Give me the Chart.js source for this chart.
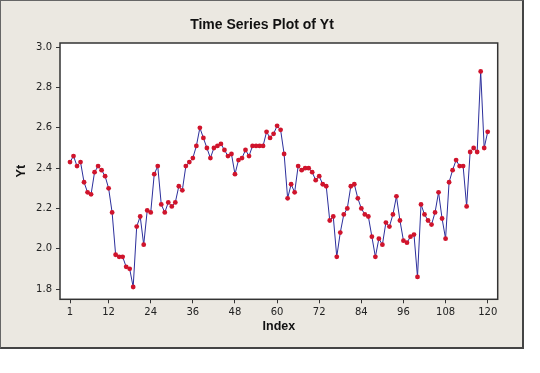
<!DOCTYPE html>
<html>
<head>
<meta charset="utf-8">
<script src="https://cdn.jsdelivr.net/npm/chart.js@4/dist/chart.umd.min.js"></script>
<style>
    body { margin: 0; background: #fff; }
    #frame {
        position: absolute; left: 0; top: 0;
        width: 521px; height: 346px;
        background: #ebe8e1;
        border-top: 1px solid #666; border-left: 1px solid #666;
        border-right: 2px solid #444; border-bottom: 2px solid #444;
    }
    #wrap { position: absolute; left: 0; top: 0; width: 540px; height: 373px; }
</style>
</head>
<body>
<div id="frame"></div>
<div id="wrap"><canvas id="myChart" width="540" height="373"></canvas></div>
<script>
'use strict';

// data
const chartTitle = 'Time Series Plot of Yt';
const indexTicks = [1, 12, 24, 36, 48, 60, 72, 84, 96, 108, 120];
const ytTicks = [1.8, 2.0, 2.2, 2.4, 2.6, 2.8, 3.0];
const yt = [
    2.43, 2.46, 2.41, 2.43, 2.33, 2.28, 2.27, 2.38, 2.41, 2.39,
    2.36, 2.30, 2.18, 1.97, 1.96, 1.96, 1.91, 1.90, 1.81, 2.11,
    2.16, 2.02, 2.19, 2.18, 2.37, 2.41, 2.22, 2.18, 2.23, 2.21,
    2.23, 2.31, 2.29, 2.41, 2.43, 2.45, 2.51, 2.60, 2.55, 2.50,
    2.45, 2.50, 2.51, 2.52, 2.49, 2.46, 2.47, 2.37, 2.44, 2.45,
    2.49, 2.46, 2.51, 2.51, 2.51, 2.51, 2.58, 2.55, 2.57, 2.61,
    2.59, 2.47, 2.25, 2.32, 2.28, 2.41, 2.39, 2.40, 2.40, 2.38,
    2.34, 2.36, 2.32, 2.31, 2.14, 2.16, 1.96, 2.08, 2.17, 2.20,
    2.31, 2.32, 2.25, 2.20, 2.17, 2.16, 2.06, 1.96, 2.05, 2.02,
    2.13, 2.11, 2.17, 2.26, 2.14, 2.04, 2.03, 2.06, 2.07, 1.86,
    2.22, 2.17, 2.14, 2.12, 2.18, 2.28, 2.15, 2.05, 2.33, 2.39,
    2.44, 2.41, 2.41, 2.21, 2.48, 2.50, 2.48, 2.88, 2.50, 2.58
];

const points = yt.map((v, i) => ({ x: i + 1, y: v }));

const tickFont = { family: 'DejaVu Sans', size: 10 };
const titleFont = { family: 'Liberation Sans', size: 12.5, weight: 'bold' };

// white plot box + dark frame + the title on top
const plotBox = {
    id: 'plotBox',
    beforeDraw(chart) {
        const { ctx, chartArea: a } = chart;
        ctx.save();
        ctx.fillStyle = '#fff';
        ctx.fillRect(a.left, a.top, a.right - a.left, a.bottom - a.top);
        ctx.restore();
    },
    afterDraw(chart) {
        const { ctx, chartArea: a } = chart;
        ctx.save();
        ctx.strokeStyle = '#333';
        ctx.lineWidth = 1.5;
        ctx.strokeRect(a.left, a.top, a.right - a.left, a.bottom - a.top);
        ctx.fillStyle = '#111';
        ctx.font = 'bold 14px "Liberation Sans"';
        ctx.textAlign = 'center';
        ctx.textBaseline = 'middle';
        ctx.fillText(chartTitle, 262, 25);
        ctx.restore();
    }
};

const ctx = document.getElementById('myChart');
const myChart = new Chart(ctx, {
    type: 'line',
    data: {
        datasets: [{
            label: 'Yt',
            data: points,
            borderColor: '#2c2f9c',
            borderWidth: 1,
            tension: 0,
            pointRadius: 2.4,
            pointBackgroundColor: '#d0142c',
            pointBorderWidth: 0
        }]
    },
    options: {
        responsive: false,
        animation: false,
        devicePixelRatio: 1,
        layout: { padding: { left: 0, top: 43, right: 42.3, bottom: 0 } },
        plugins: {
            legend: { display: false },
            tooltip: { enabled: false }
        },
        scales: {
            x: {
                type: 'linear',
                min: -1.85,
                max: 122.85,
                afterBuildTicks: s => { s.ticks = indexTicks.map(v => ({ value: v })); },
                afterFit: s => { s.height = 73.7; },
                grid: { drawOnChartArea: false, tickLength: 4, tickColor: '#333', tickWidth: 1 },
                border: { display: false },
                ticks: { autoSkip: false, maxRotation: 0, padding: 3, color: '#222', font: tickFont },
                title: { display: true, text: 'Index', color: '#111', font: titleFont, padding: { top: 0, bottom: 38.5 } }
            },
            y: {
                min: 1.749,
                max: 3.021,
                afterBuildTicks: s => { s.ticks = ytTicks.map(v => ({ value: v })); },
                afterFit: s => { s.width = 60; },
                grid: { drawOnChartArea: false, tickLength: 4, tickColor: '#333', tickWidth: 1 },
                border: { display: false },
                ticks: {
                    autoSkip: false, padding: 4, color: '#222', font: tickFont,
                    callback: v => v.toFixed(1)
                },
                title: { display: true, text: 'Yt', color: '#111', font: titleFont, padding: { top: 14.5, bottom: 0 } }
            }
        }
    },
    plugins: [plotBox]
});
</script>
</body>
</html>
